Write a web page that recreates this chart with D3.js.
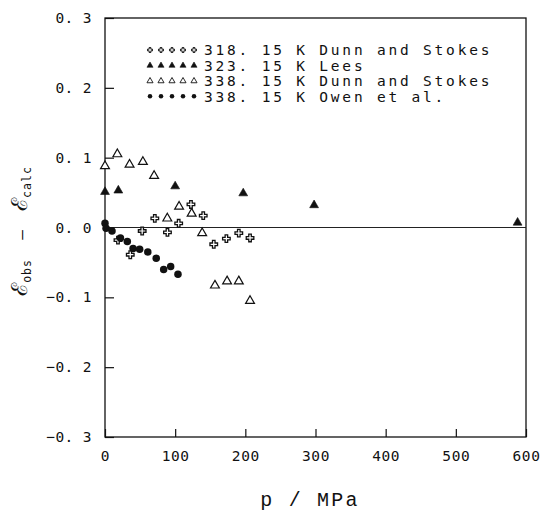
<!DOCTYPE html>
<html><head><meta charset="utf-8">
<script src="https://cdn.jsdelivr.net/npm/d3@7"></script>
<style>
html,body{margin:0;padding:0;background:#fff;}
svg{display:block;}
</style>
</head><body>
<svg id="chart" width="548" height="513"></svg>
<script>
// ---- data ----
const xTicks = [0, 100, 200, 300, 400, 500, 600];
const yTicks = [-0.3, -0.2, -0.1, 0.0, 0.1, 0.2, 0.3];
const yTickLabels = ["\u22120. 3", "\u22120. 2", "\u22120. 1", "0. 0", "0. 1", "0. 2", "0. 3"];

const legendLabels = ["318. 15 K Dunn and Stokes", "323. 15 K Lees", "338. 15 K Dunn and Stokes", "338. 15 K Owen et al."];

const pDunn318 = [18.5, 36, 53, 71, 89, 105, 122.5, 140, 155, 173, 190.7, 206.7];
const eDunn318 = [-0.018, -0.039, -0.005, 0.013, -0.007, 0.006, 0.033, 0.017, -0.024, -0.016, -0.008, -0.015];

const pLees = [0, 19, 100, 197, 298, 588];
const eLees = [0.051, 0.053, 0.059, 0.049, 0.032, 0.007];

const pDunn338 = [0, 17.6, 35, 54, 70, 88.8, 105.6, 123.5, 138.5, 156.7, 174, 190.7, 206.7];
const eDunn338 = [0.088, 0.105, 0.090, 0.094, 0.074, 0.013, 0.030, 0.020, -0.008, -0.083, -0.077, -0.077, -0.105];

const pOwen = [0, 1.5, 10, 22, 31.8, 40, 49.4, 61, 73, 83.6, 93.6, 104];
const eOwen = [0.006, -0.001, -0.005, -0.015, -0.020, -0.030, -0.031, -0.035, -0.044, -0.060, -0.056, -0.067];

// ---- layout ----
const L = 105, R = 526, T = 18, B = 437;
const x = d3.scaleLinear().domain([0, 600]).range([L, R]);
const y = d3.scaleLinear().domain([-0.3, 0.3]).range([B, T]);

const svg = d3.select("#chart");
const monoFont = "'DejaVu Sans Mono', monospace";

// frame
svg.append("rect").attr("x", L).attr("y", T).attr("width", R - L).attr("height", B - T)
  .attr("fill", "none").attr("stroke", "#111").attr("stroke-width", 1.3);

// zero line
svg.append("line").attr("x1", L).attr("x2", R).attr("y1", y(0)).attr("y2", y(0))
  .attr("stroke", "#222").attr("stroke-width", 1.1);

// y axis ticks (inward)
const yAxis = d3.axisLeft(y).tickValues(yTicks).tickSize(-9).tickPadding(13)
  .tickFormat((d, i) => yTickLabels[i]);
const gy = svg.append("g").attr("transform", `translate(${L},0)`).call(yAxis);
gy.select(".domain").remove();
gy.selectAll("line").attr("stroke", "#111").attr("stroke-width", 1.2);
gy.selectAll("text").attr("font-family", monoFont).attr("font-size", 14.5)
  .attr("letter-spacing", 0.4).attr("fill", "#111");

// x axis ticks (inward)
const xAxis = d3.axisBottom(x).tickValues(xTicks).tickSize(-8).tickPadding(14)
  .tickFormat(d3.format("d"));
const gx = svg.append("g").attr("transform", `translate(0,${B})`).call(xAxis);
gx.select(".domain").remove();
gx.selectAll("line").attr("stroke", "#111").attr("stroke-width", 1.2);
gx.selectAll("text").attr("font-family", monoFont).attr("font-size", 14.5)
  .attr("letter-spacing", 0.6).attr("fill", "#111");

// axis titles
svg.append("text").attr("x", 310).attr("y", 506).attr("text-anchor", "middle")
  .attr("font-family", "'Liberation Mono', monospace").attr("font-size", 20)
  .attr("letter-spacing", 2.2).attr("fill", "#111").text("p / MPa");

const yt = svg.append("text").attr("transform", "translate(27,231) rotate(-90)")
  .attr("text-anchor", "middle").attr("fill", "#111");
yt.append("tspan").attr("font-family", "'DejaVu Serif', serif").attr("font-size", 22).text("\u2130");
yt.append("tspan").attr("font-family", monoFont).attr("font-size", 11.5).attr("letter-spacing", 1).attr("dy", 4).text("obs");
yt.append("tspan").attr("font-family", monoFont).attr("font-size", 16).attr("dy", -4).attr("xml:space", "preserve").text("  \u2014  ");
yt.append("tspan").attr("font-family", "'DejaVu Serif', serif").attr("font-size", 22).text("\u2130");
yt.append("tspan").attr("font-family", monoFont).attr("font-size", 11.5).attr("letter-spacing", 1).attr("dy", 4).text("calc");

// ---- markers ----
const crossSym = (s) => d3.symbol().type(d3.symbolCross).size(s)();
const triSym = (s) => d3.symbol().type(d3.symbolTriangle).size(s)();

function drawSeries(ps, es, kind) {
  const g = svg.append("g");
  const pts = ps.map((p, i) => [p, es[i]]);
  const sel = g.selectAll("path").data(pts).join("path")
    .attr("transform", d => `translate(${x(d[0])},${y(d[1])})`);
  styleMarker(sel, kind, true);
}
function styleMarker(sel, kind, big) {
  if (kind === "cross") {
    sel.attr("d", crossSym(big ? 32 : 14)).attr("fill", "#fff").attr("stroke", "#111").attr("stroke-width", big ? 1.3 : 1);
  } else if (kind === "tri") {
    sel.attr("d", triSym(big ? 34 : 16)).attr("fill", "#111").attr("stroke", "#111").attr("stroke-width", 0.6);
  } else if (kind === "otri") {
    sel.attr("d", triSym(big ? 34 : 16)).attr("fill", "#fff").attr("stroke", "#111").attr("stroke-width", big ? 1.2 : 0.9);
  } else {
    sel.attr("d", d3.symbol().type(d3.symbolCircle).size(big ? 44 : 16)()).attr("fill", "#111").attr("stroke", "none");
  }
}

drawSeries(pDunn338, eDunn338, "otri");
drawSeries(pDunn318, eDunn318, "cross");
drawSeries(pLees, eLees, "tri");
drawSeries(pOwen, eOwen, "circle");

// ---- legend ----
const legendKinds = ["cross", "tri", "otri", "circle"];
const legRowY = [50, 65.5, 81, 96.3];
const legSymX = [150, 161, 172, 183, 194];
legendLabels.forEach((lab, i) => {
  const g = svg.append("g");
  const sel = g.selectAll("path").data(legSymX).join("path")
    .attr("transform", d => `translate(${d},${legRowY[i]})`);
  styleMarker(sel, legendKinds[i], false);
  g.append("text").attr("x", 204).attr("y", legRowY[i]).attr("dy", "0.36em")
    .attr("font-family", monoFont).attr("font-size", 14.5).attr("letter-spacing", 2.8)
    .attr("fill", "#111").text(lab);
});
</script>
</body></html>
